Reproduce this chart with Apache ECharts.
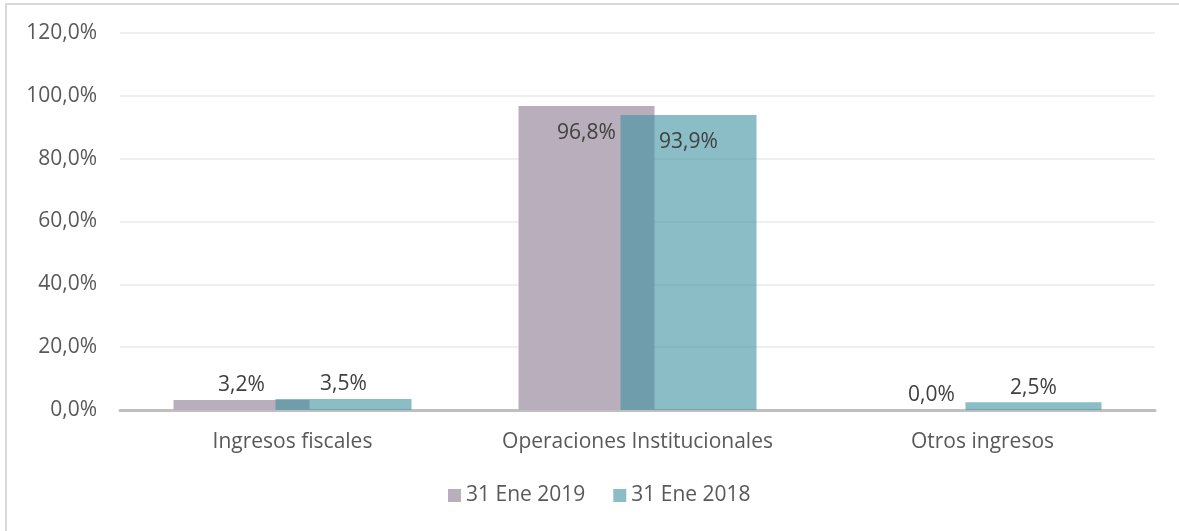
<!DOCTYPE html>
<html>
<head>
<meta charset="utf-8">
<script src="https://cdn.jsdelivr.net/npm/echarts@6/dist/echarts.min.js"></script>
<style>
  html, body { margin: 0; padding: 0; background: #fff; }
  #chart { width: 1179px; height: 531px; }
  #frame {
    position: absolute; left: 5px; top: 3px; right: 0; bottom: 0;
    border-left: 2px solid #d9d9d9; border-top: 2px solid #d9d9d9;
    pointer-events: none;
  }
</style>
</head>
<body>
<div id="chart"></div>
<div id="frame"></div>
<script>
  const categories = ['Ingresos fiscales', 'Operaciones Institucionales', 'Otros ingresos'];
  const seriesNames = ['31 Ene 2019', '31 Ene 2018'];
  const values2019 = [3.2, 96.8, 0.0];
  const values2018 = [3.5, 93.9, 2.5];

  const font = 'Open Sans';
  const fs = 21;
  const pct = (v) => v.toFixed(1).replace('.', ',') + '%';

  // tall bars get the label inside the top, short ones above
  const withLabels = (arr) => arr.map((v) => ({
    value: v,
    label: v > 50 ? { position: 'insideTop', distance: 17 } : { position: 'top', distance: 4 },
  }));

  const chart = echarts.init(document.getElementById('chart'));
  chart.setOption({
    animation: false,
    textStyle: { fontFamily: font },
    grid: { left: 120, right: 24, top: 33, bottom: 121 },
    legend: {
      data: seriesNames,
      bottom: 20,
      left: 443,
      itemWidth: 13,
      itemHeight: 13,
      itemGap: 28,
      icon: 'rect',
      textStyle: { fontFamily: font, fontSize: fs, color: '#595959' },
    },
    xAxis: {
      type: 'category',
      data: categories,
      axisLine: { lineStyle: { color: '#bfbfbf', width: 3 } },
      axisTick: { show: false },
      axisLabel: { fontFamily: font, fontSize: fs, color: '#595959', margin: 22, interval: 0 },
    },
    yAxis: {
      type: 'value',
      min: 0,
      max: 120,
      interval: 20,
      axisLine: { show: false },
      axisTick: { show: false },
      splitLine: { lineStyle: { color: '#efefef', width: 2 } },
      axisLabel: { fontFamily: font, fontSize: fs, color: '#595959', margin: 23, formatter: pct },
    },
    series: [
      {
        name: seriesNames[0],
        type: 'bar',
        barWidth: 136,
        barGap: '-25%',
        itemStyle: { color: '#b9aebb' },
        label: {
          show: true, fontFamily: font, fontSize: fs, color: '#404040',
          formatter: (p) => pct(p.value),
        },
        data: withLabels(values2019),
      },
      {
        name: seriesNames[1],
        type: 'bar',
        barWidth: 136,
        barGap: '-25%',
        itemStyle: { color: 'rgba(62,145,160,0.6)' },
        label: {
          show: true, fontFamily: font, fontSize: fs, color: '#404040',
          formatter: (p) => pct(p.value),
        },
        data: withLabels(values2018),
      },
    ],
  });
</script>
</body>
</html>
